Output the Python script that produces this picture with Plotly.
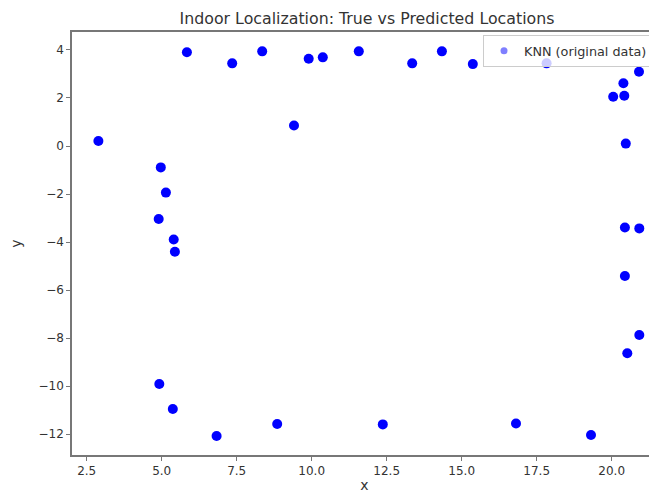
import plotly.graph_objects as go

# Data
x_vals = [2.89, 5.84, 7.35, 8.35, 9.90, 10.37, 11.57, 13.35, 14.34, 15.37, 17.83,
          9.41, 4.97, 5.14, 4.90, 5.40, 5.44, 4.92, 5.37, 6.83, 8.85, 12.37,
          16.81, 19.31, 20.05, 20.42, 20.39, 20.91, 20.47, 20.44, 20.92, 20.44,
          20.92, 20.52]
y_vals = [0.21, 3.90, 3.44, 3.94, 3.63, 3.69, 3.94, 3.44, 3.94, 3.41, 3.44,
          0.85, -0.89, -1.94, -3.04, -3.89, -4.40, -9.91, -10.95, -12.07, -11.57, -11.59,
          -11.55, -12.03, 2.05, 2.09, 2.61, 3.09, 0.10, -3.39, -3.43, -5.41,
          -7.87, -8.63]
series_name = "KNN (original data)"

x_tickvals = [2.5, 5.0, 7.5, 10.0, 12.5, 15.0, 17.5, 20.0]
x_ticktext = ["2.5", "5.0", "7.5", "10.0", "12.5", "15.0", "17.5", "20.0"]
y_tickvals = [4, 2, 0, -2, -4, -6, -8, -10, -12]
y_ticktext = ["4", "2", "0", "\u22122", "\u22124", "\u22126", "\u22128", "\u221210", "\u221212"]

OFF = 8  # page body margin
W, H = 657 - OFF, 493 - OFF
ML, MR, MT, MB = 64, 0, 24, 38
PW = W - ML - MR
PH = H - MT - MB

fig = go.Figure()
# semi-transparent trace that carries the legend entry (smaller, lighter symbol)
fig.add_trace(go.Scatter(
    x=x_vals, y=y_vals, mode="markers", name=series_name,
    marker=dict(size=7, color="rgba(0,0,255,0.5)", line=dict(width=0)),
))
# overlay so the points appear solid
fig.add_trace(go.Scatter(
    x=x_vals, y=y_vals, mode="markers", showlegend=False,
    marker=dict(size=10, color="rgba(0,0,255,1)", line=dict(width=0)),
))

axis_color = "#777777"
font_fam = "DejaVu Sans, sans-serif"

fig.update_layout(
    width=W, height=H,
    margin=dict(l=ML, r=MR, t=MT, b=MB),
    paper_bgcolor="white", plot_bgcolor="white",
    font=dict(family=font_fam, size=12, color="#333333"),
    title=dict(text="Indoor Localization: True vs Predicted Locations",
               xref="container", x=(367 - OFF) / W, xanchor="center",
               yref="container", y=1 - (18 - OFF) / H, yanchor="middle",
               font=dict(size=15.8, color="#333333")),
    xaxis=dict(range=[2.01, 21.51], tickvals=x_tickvals, ticktext=x_ticktext,
               showgrid=False, zeroline=False, showline=True, linecolor=axis_color,
               linewidth=1.5, mirror=True, ticks="outside", ticklen=4, tickwidth=1,
               tickcolor=axis_color, title=dict(text="x", standoff=3)),
    yaxis=dict(range=[-12.864, 4.746], tickvals=y_tickvals, ticktext=y_ticktext,
               showgrid=False, zeroline=False, showline=True, linecolor=axis_color,
               linewidth=1.5, mirror=False, ticks="outside", ticklen=4, tickwidth=1,
               tickcolor=axis_color, title=dict(text="y", standoff=14)),
    legend=dict(x=(483 - OFF - ML) / PW, xanchor="left",
                y=1 - (35 - OFF - MT) / PH, yanchor="top",
                bgcolor="rgba(255,255,255,0.8)", bordercolor="#cccccc", borderwidth=1,
                font=dict(size=12.8, color="#333333")),
    showlegend=True,
)

fig.write_html("out.html")
